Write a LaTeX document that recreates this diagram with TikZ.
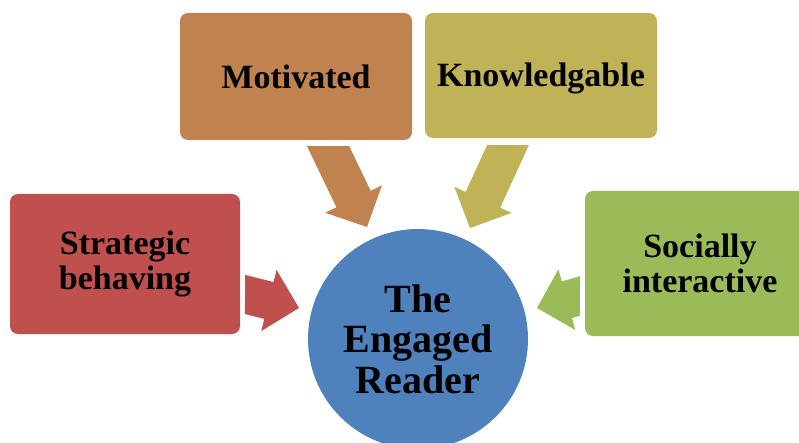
\documentclass[tikz,border=0pt]{standalone}
\usepackage{fontspec}
\setmainfont{Liberation Serif}
\usetikzlibrary{calc}

\definecolor{stratred}{HTML}{C0504D}
\definecolor{motorange}{HTML}{C08350}
\definecolor{knowolive}{HTML}{C0B256}
\definecolor{socgreen}{HTML}{9BBB59}
\definecolor{readerblue}{HTML}{4F81BD}

% block arrow from back centre #1 to tip #2, back edge cut along #4
\newcommand{\blockarrow}[4]{%
  \coordinate (#1h) at ($(#2)!31pt!(#1)$);
  \coordinate (#1x) at ($(#1)+#4$);
  \coordinate (#1l) at ($(#1)!19pt!90:(#2)$);
  \coordinate (#1m) at ($(#1h)!19pt!90:(#2)$);
  \coordinate (#1r) at ($(#1)!19pt!-90:(#2)$);
  \coordinate (#1s) at ($(#1h)!19pt!-90:(#2)$);
  \fill[#3] (intersection of #1l--#1m and #1--#1x) -- (#1m)
    -- ($(#1h)!31.5pt!90:(#2)$) -- (#2)
    -- ($(#1h)!31.5pt!-90:(#2)$) -- (#1s)
    -- (intersection of #1r--#1s and #1--#1x) -- cycle;}

\tikzset{
  box/.style={rounded corners=8pt, minimum width=230pt, align=center,
    font=\fontsize{34}{35}\selectfont\bfseries, inner sep=0pt},
}

\begin{document}
\begin{tikzpicture}[x=1pt, y=-1pt]
        \useasboundingbox (0,0) rectangle (799,443);
        \clip (0,0) rectangle (799,443);

        % Boxes
        \node[box, fill=motorange, minimum width=232pt, minimum height=127pt] (mot) at (296,76.5) {Motivated};
        \node[box, fill=knowolive, minimum width=232pt, minimum height=125pt] (know) at (541,75.5) {};
        \node[font=\fontsize{34}{35}\selectfont\bfseries, inner sep=0pt] (knowtext) at (541,78.5) {Knowledgable};
        \node[box, fill=stratred, minimum height=140pt] (strat) at (125,264) {Strategic\\behaving};
        \node[box, fill=socgreen, minimum height=145pt] (soc) at (700,263.5) {Socially\\interactive};

        % Centre
        \node[circle, fill=readerblue, minimum size=220pt, inner sep=0pt, align=center,
          font=\fontsize{40}{40.5}\selectfont\bfseries] (reader) at (418,339) {The\\Engaged\\Reader};

        % Arrows
        \coordinate (motA) at (328,146);
        \coordinate (motB) at (367,227);
        \coordinate (knowA) at (508,145);
        \coordinate (knowB) at (470,228);
        \coordinate (stratA) at (245,294.5);
        \coordinate (stratB) at (299,308);
        \coordinate (socA) at (580,296);
        \coordinate (socB) at (537,308);
        \blockarrow{motA}{motB}{motorange}{(10,0)}
        \blockarrow{knowA}{knowB}{knowolive}{(10,0)}
        \blockarrow{stratA}{stratB}{stratred}{(0,10)}
        \blockarrow{socA}{socB}{socgreen}{(0,10)}
    \end{tikzpicture}
\end{document}
